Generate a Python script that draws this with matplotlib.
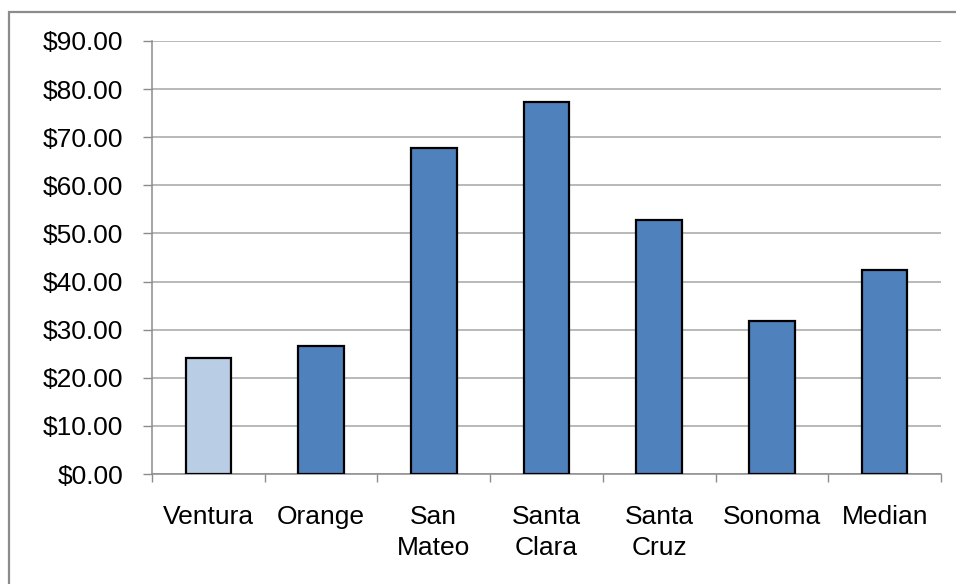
import numpy as np
import matplotlib
matplotlib.use('Agg')
import matplotlib.pyplot as plt
from matplotlib.patches import Rectangle
from matplotlib.ticker import FuncFormatter, FixedLocator

counties = ['Ventura', 'Orange', 'San\nMateo', 'Santa\nClara', 'Santa\nCruz', 'Sonoma', 'Median']
values = [24.2, 26.6, 67.7, 77.4, 52.8, 31.8, 42.4]
bar_colors = ['#B9CDE5', '#4F81BD', '#4F81BD', '#4F81BD', '#4F81BD', '#4F81BD', '#4F81BD']

plt.rcParams['font.family'] = ['Liberation Sans', 'DejaVu Sans']

fig = plt.figure(figsize=(9.56, 5.84), dpi=100)
ax = fig.add_axes([152 / 956, 1 - 474 / 584, (941 - 152) / 956, (474 - 41) / 584])

# outer chart frame (runs off the right/bottom edge like the screenshot)
fig.patches.append(Rectangle((9 / 956, -0.1), 1.2, 1 - 12 / 584 + 0.1,
                             transform=fig.transFigure, fill=False,
                             edgecolor='#8C8C8C', linewidth=1.6))

x = np.arange(len(counties))
ax.bar(x, values, width=0.405, color=bar_colors, edgecolor='black', linewidth=1.6, zorder=3)

ax.set_xlim(-0.5, len(counties) - 0.5)
ax.set_ylim(0, 90)
ax.set_yticks(np.arange(0, 91, 10))
ax.yaxis.set_major_formatter(FuncFormatter(lambda v, p: f'${v:.2f}'))
ax.grid(axis='y', color='#A6A6A6', linewidth=1.1, zorder=0)

ax.set_xticks(x)
ax.set_xticklabels(counties, linespacing=1.4)
ax.xaxis.set_minor_locator(FixedLocator(np.arange(-0.5, len(counties), 1)))
ax.tick_params(axis='x', which='major', length=0, pad=22, labelsize=19)
ax.tick_params(axis='x', which='minor', length=6, width=1, color='#8C8C8C', direction='out')
ax.tick_params(axis='y', length=6.5, width=1, color='#8C8C8C', pad=14, labelsize=19)

for s in ['top', 'right']:
    ax.spines[s].set_visible(False)
for s in ['left', 'bottom']:
    ax.spines[s].set_color('#8C8C8C')
    ax.spines[s].set_linewidth(1.1)

fig.savefig('out.png', dpi=100)
